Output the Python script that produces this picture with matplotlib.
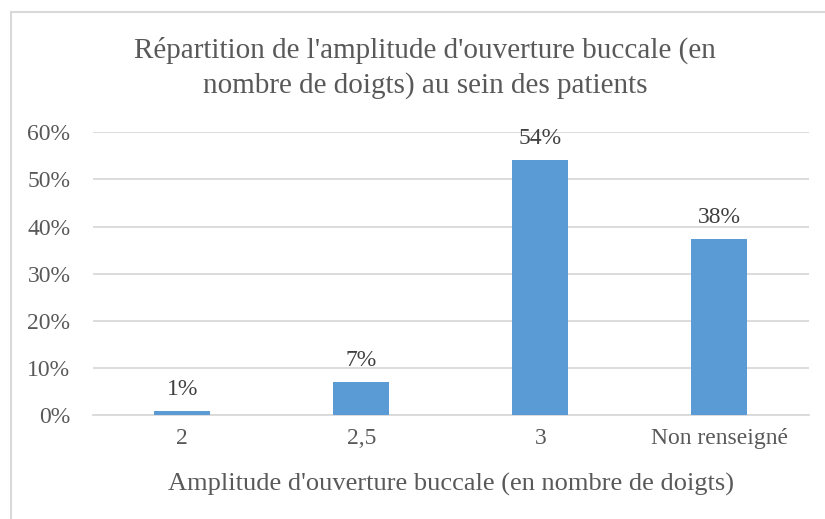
import numpy as np
import matplotlib
matplotlib.use("Agg")
import matplotlib.pyplot as plt
from matplotlib.patches import Rectangle
from matplotlib.ticker import PercentFormatter

# données
categories = ["2", "2,5", "3", "Non renseigné"]
values = [0.009, 0.071, 0.541, 0.374]
labels = ["1%", "7%", "54%", "38%"]

plt.rcParams['font.family'] = ['Liberation Serif', 'DejaVu Serif']

text_color = '#595959'
grid_color = '#D9D9D9'
bar_color = '#5B9BD5'

fig = plt.figure(figsize=(8.25, 5.19), dpi=100)
ax = fig.add_axes([92.7 / 825, 1 - 415.3 / 519, (809 - 92.7) / 825, (415.3 - 132.3) / 519])

x = np.arange(len(categories))
ax.bar(x, values, width=0.313, color=bar_color, zorder=3)

for xi, v, lab in zip(x, values, labels):
    ax.annotate(lab, (xi, v), xytext=(0, 8), textcoords='offset points',
                ha='center', va='bottom', fontsize=17, color='#404040')

ax.set_xlim(-0.5, len(categories) - 0.5)
ax.set_ylim(0, 0.6)
ax.set_yticks(np.arange(0, 0.61, 0.1))
ax.yaxis.set_major_formatter(PercentFormatter(1.0, decimals=0))
ax.set_xticks(x)
ax.set_xticklabels(categories)
ax.tick_params(axis='both', length=0, labelsize=17, colors=text_color)
ax.tick_params(axis='x', pad=9)
ax.tick_params(axis='y', pad=16)
ax.grid(axis='y', color=grid_color, linewidth=1.3, zorder=0)
for side in ['top', 'right', 'left']:
    ax.spines[side].set_visible(False)
ax.spines['bottom'].set_color(grid_color)
ax.spines['bottom'].set_linewidth(1.3)

ax.set_xlabel("Amplitude d'ouverture buccale (en nombre de doigts)", fontsize=19,
              color=text_color, labelpad=17)

fig.text(425 / 825, 1 - 68 / 519,
         "Répartition de l'amplitude d'ouverture buccale (en\nnombre de doigts) au sein des patients",
         ha='center', va='center', fontsize=21, color=text_color, linespacing=1.38)

# cadre du graphique (coupé à droite et en bas)
fig.patches.append(Rectangle((11 / 825, -0.1), 1.0, 1.1 - 12 / 519, transform=fig.transFigure,
                             fill=False, edgecolor=grid_color, linewidth=1.5, clip_on=False))

fig.savefig("out.png", dpi=100)
